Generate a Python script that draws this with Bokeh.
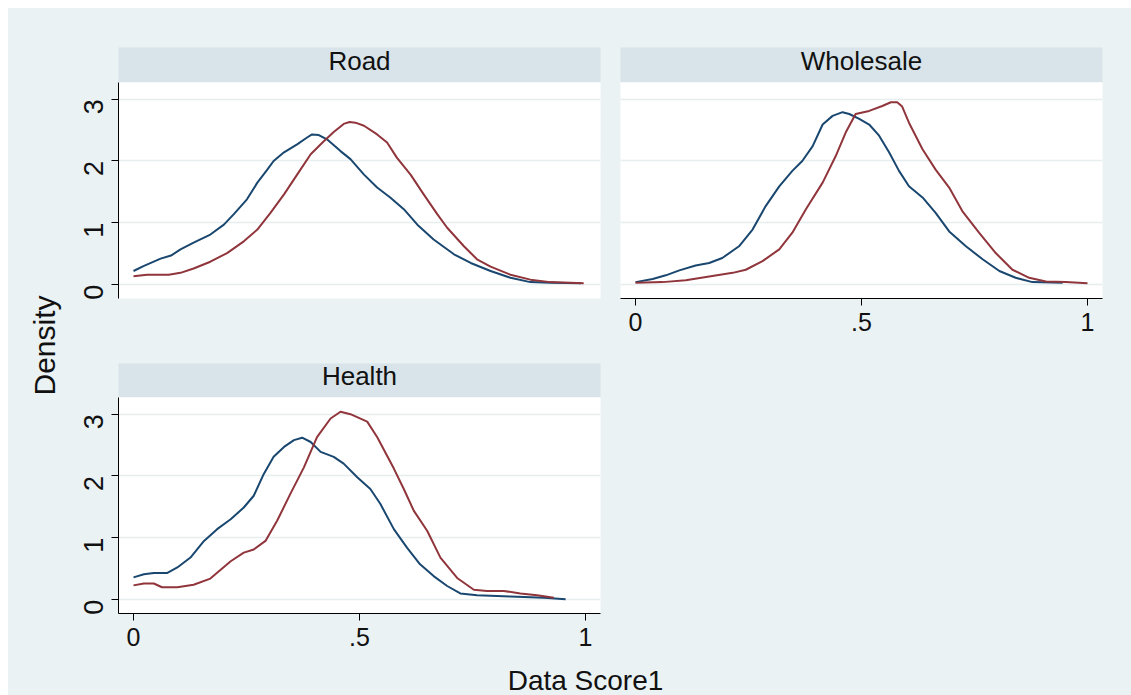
import math
from bokeh.plotting import figure
from bokeh.layouts import row, column
from bokeh.models import Range1d, FixedTicker, Grid, Label
from bokeh.core.properties import value
from bokeh.embed import file_html
from bokeh.resources import INLINE

# ---------------- data ----------------
panels = ["Road", "Wholesale", "Health"]
y_ticks = [0, 1, 2, 3]
x_ticks = [0, 0.5, 1]
x_tick_labels = ["0", ".5", "1"]
x_title = "Data Score1"
y_title = "Density"

road_blue_x = [0, 0.022, 0.06, 0.083, 0.104, 0.133, 0.17, 0.2, 0.222, 0.251, 0.274, 0.296, 0.31, 0.333,
               0.362, 0.384, 0.395, 0.41, 0.428, 0.458, 0.48, 0.51, 0.539, 0.568, 0.598, 0.628, 0.664,
               0.709, 0.746, 0.79, 0.834, 0.878, 0.922, 0.99]
road_blue_y = [0.22, 0.30, 0.42, 0.47, 0.57, 0.68, 0.81, 0.97, 1.14, 1.38, 1.65, 1.86, 2.0, 2.14,
               2.27, 2.38, 2.43, 2.42, 2.35, 2.16, 2.03, 1.78, 1.57, 1.41, 1.22, 0.97, 0.73,
               0.49, 0.35, 0.22, 0.11, 0.04, 0.03, 0.02]
road_red_x = [0, 0.03, 0.078, 0.104, 0.133, 0.17, 0.207, 0.244, 0.274, 0.303, 0.333, 0.362, 0.392,
              0.421, 0.443, 0.465, 0.478, 0.491, 0.51, 0.539, 0.561, 0.583, 0.613, 0.642, 0.672, 0.694,
              0.731, 0.76, 0.79, 0.834, 0.878, 0.922, 0.996]
road_red_y = [0.135, 0.16, 0.16, 0.19, 0.26, 0.37, 0.51, 0.70, 0.89, 1.16, 1.46, 1.78, 2.11,
              2.32, 2.47, 2.60, 2.63, 2.62, 2.57, 2.43, 2.30, 2.05, 1.78, 1.46, 1.14, 0.92,
              0.62, 0.41, 0.29, 0.16, 0.08, 0.04, 0.02]

whole_blue_x = [0, 0.038, 0.067, 0.097, 0.133, 0.163, 0.192, 0.229, 0.259, 0.288, 0.318, 0.347, 0.369,
                0.392, 0.414, 0.436, 0.458, 0.473, 0.495, 0.517, 0.539, 0.561, 0.583, 0.605, 0.635,
                0.664, 0.694, 0.731, 0.768, 0.805, 0.841, 0.878, 0.945]
whole_blue_y = [0.04, 0.09, 0.15, 0.23, 0.31, 0.35, 0.43, 0.62, 0.89, 1.27, 1.59, 1.84, 2.0,
                2.24, 2.59, 2.73, 2.79, 2.76, 2.68, 2.59, 2.41, 2.14, 1.84, 1.59, 1.41,
                1.16, 0.86, 0.62, 0.41, 0.22, 0.11, 0.04, 0.03]
whole_red_x = [0, 0.06, 0.111, 0.17, 0.215, 0.244, 0.281, 0.318, 0.347, 0.377, 0.414, 0.443, 0.465,
               0.487, 0.517, 0.546, 0.565, 0.579, 0.59, 0.605, 0.635, 0.664, 0.694, 0.723, 0.76, 0.797,
               0.834, 0.871, 0.908, 0.952, 1.0]
whole_red_y = [0.03, 0.04, 0.07, 0.14, 0.19, 0.24, 0.38, 0.57, 0.84, 1.22, 1.65, 2.08, 2.46,
               2.76, 2.81, 2.89, 2.95, 2.95, 2.88, 2.62, 2.19, 1.86, 1.57, 1.19, 0.84, 0.51,
               0.24, 0.11, 0.05, 0.04, 0.02]

health_blue_x = [0, 0.023, 0.045, 0.074, 0.097, 0.126, 0.156, 0.185, 0.215, 0.244, 0.266, 0.288, 0.31,
                 0.333, 0.355, 0.373, 0.392, 0.414, 0.443, 0.465, 0.495, 0.524, 0.546, 0.576, 0.605,
                 0.634, 0.664, 0.694, 0.723, 0.76, 0.834, 0.908, 0.956]
health_blue_y = [0.36, 0.41, 0.43, 0.43, 0.52, 0.68, 0.95, 1.14, 1.30, 1.49, 1.68, 2.03, 2.31,
                 2.47, 2.58, 2.62, 2.55, 2.39, 2.31, 2.20, 1.98, 1.79, 1.55, 1.14, 0.84,
                 0.57, 0.38, 0.22, 0.10, 0.07, 0.05, 0.03, 0.005]
health_red_x = [0, 0.023, 0.045, 0.063, 0.097, 0.133, 0.17, 0.215, 0.244, 0.266, 0.292, 0.318, 0.347,
                0.377, 0.406, 0.436, 0.458, 0.48, 0.517, 0.539, 0.576, 0.598, 0.62, 0.65, 0.679,
                0.716, 0.753, 0.782, 0.819, 0.856, 0.893, 0.93]
health_red_y = [0.23, 0.26, 0.26, 0.20, 0.20, 0.24, 0.34, 0.62, 0.76, 0.81, 0.95, 1.28, 1.71,
                2.14, 2.63, 2.93, 3.04, 3.0, 2.88, 2.63, 2.12, 1.79, 1.44, 1.11, 0.68,
                0.35, 0.16, 0.14, 0.14, 0.10, 0.07, 0.03]

series = {
    "Road": [(road_blue_x, road_blue_y), (road_red_x, road_red_y)],
    "Wholesale": [(whole_blue_x, whole_blue_y), (whole_red_x, whole_red_y)],
    "Health": [(health_blue_x, health_blue_y), (health_red_x, health_red_y)],
}

# ---------------- style ----------------
BG = "#eaf2f3"
STRIP = "#d8e4e9"
GRID = "#e7eef0"
LINE_COLORS = ["#1a476f", "#90353b"]
FONT = "Liberation Sans"

X_RANGE = (-0.0332, 1.0332)
Y_RANGE = (-0.225, 3.27)


def style_bare(p):
    p.background_fill_color = BG
    p.border_fill_color = BG
    p.outline_line_color = None
    p.grid.visible = False


def strip_fig(name, width, left, right, top, strip_h):
    p = figure(width=width, height=top + strip_h, x_range=Range1d(0, 1), y_range=Range1d(0, 1),
               x_axis_location=None, y_axis_location=None, toolbar_location=None,
               output_backend="svg", min_border_left=left, min_border_right=right,
               min_border_top=top, min_border_bottom=0)
    style_bare(p)
    p.background_fill_color = STRIP
    p.text(x=[0.5], y=[0.62], text=[name], text_align="center", text_baseline="middle",
           text_font=value(FONT), text_font_size="26px", text_color="#111111")
    return p


def panel_fig(name, width, left, right, bottom, frame_h, show_x, show_y):
    p = figure(width=width, height=frame_h + bottom, x_range=Range1d(*X_RANGE), y_range=Range1d(*Y_RANGE),
               x_axis_location="below" if show_x else None,
               y_axis_location="left" if show_y else None,
               toolbar_location=None, output_backend="svg",
               min_border_left=left, min_border_right=right, min_border_top=0, min_border_bottom=bottom)
    style_bare(p)
    p.background_fill_color = "white"
    p.add_layout(Grid(dimension=1, ticker=FixedTicker(ticks=y_ticks), grid_line_color=GRID,
                      grid_line_width=1.5))
    if show_x:
        ax = p.xaxis[0]
        ax.ticker = FixedTicker(ticks=x_ticks)
        ax.major_label_overrides = {t: l for t, l in zip(x_ticks, x_tick_labels)}
        ax.major_label_standoff = 7
        ax.major_label_text_font_size = "25px"
    if show_y:
        ay = p.yaxis[0]
        ay.ticker = FixedTicker(ticks=y_ticks)
        ay.major_label_orientation = math.pi / 2
        ay.major_label_standoff = 18
        ay.major_label_text_font_size = "27px"
    for ax in list(p.xaxis) + list(p.yaxis):
        ax.axis_line_color = "black"
        ax.axis_line_width = 1
        ax.major_tick_line_color = "black"
        ax.major_tick_out = 7
        ax.major_tick_in = 0
        ax.minor_tick_line_color = None
        ax.major_label_text_font = FONT
        ax.major_label_text_color = "#111111"
    for (xs, ys), c in zip(series[name], LINE_COLORS):
        p.line(xs, ys, line_color=c, line_width=2, line_join="round")
    return p


# ---------------- layout ----------------
LEFT_W = 54
PANEL_LEFT = 56
COL1_W = PANEL_LEFT + 482 + 10
COL2_W = 10 + 482 + 29
FRAME_H = 216

road = column(strip_fig(panels[0], COL1_W, PANEL_LEFT, 10, 39, 35),
              panel_fig(panels[0], COL1_W, PANEL_LEFT, 10, 42, FRAME_H, False, True))
whole = column(strip_fig(panels[1], COL2_W, 10, 29, 39, 35),
               panel_fig(panels[1], COL2_W, 10, 29, 42, FRAME_H, True, False))
health = column(strip_fig(panels[2], COL1_W, PANEL_LEFT, 10, 23, 34),
                panel_fig(panels[2], COL1_W, PANEL_LEFT, 10, 41, FRAME_H, True, True))

blank = figure(width=COL2_W, height=23 + 34 + FRAME_H + 41, x_axis_location=None, y_axis_location=None,
               toolbar_location=None, output_backend="svg", min_border=0,
               x_range=Range1d(0, 1), y_range=Range1d(0, 1))
style_bare(blank)

grid_h = 39 + 35 + FRAME_H + 42 + 23 + 34 + FRAME_H + 41
left = figure(width=LEFT_W, height=grid_h, x_axis_location=None, y_axis_location=None,
              toolbar_location=None, output_backend="svg", min_border=0,
              x_range=Range1d(0, LEFT_W), y_range=Range1d(0, grid_h))
style_bare(left)
left.add_layout(Label(x=36, y=grid_h - 337, text=y_title, angle=math.pi / 2, text_align="center",
                      text_baseline="middle", text_font=FONT, text_font_size="30px",
                      text_color="#111111"))

BOTTOM_H = 41
TOTAL_W = LEFT_W + COL1_W + COL2_W
bottom = figure(width=TOTAL_W, height=BOTTOM_H, x_axis_location=None, y_axis_location=None,
                toolbar_location=None, output_backend="svg", min_border=0,
                x_range=Range1d(0, TOTAL_W), y_range=Range1d(0, BOTTOM_H))
style_bare(bottom)
bottom.add_layout(Label(x=577, y=15, text=x_title, text_align="center", text_baseline="middle",
                        text_font=FONT, text_font_size="28px", text_color="#111111"))

layout = column(row(left, column(row(road, whole), row(health, blank))), bottom)
layout.styles = {"margin-left": "8px", "margin-top": "8px", "background-color": BG}

open("out.html", "w").write(file_html(layout, INLINE))
